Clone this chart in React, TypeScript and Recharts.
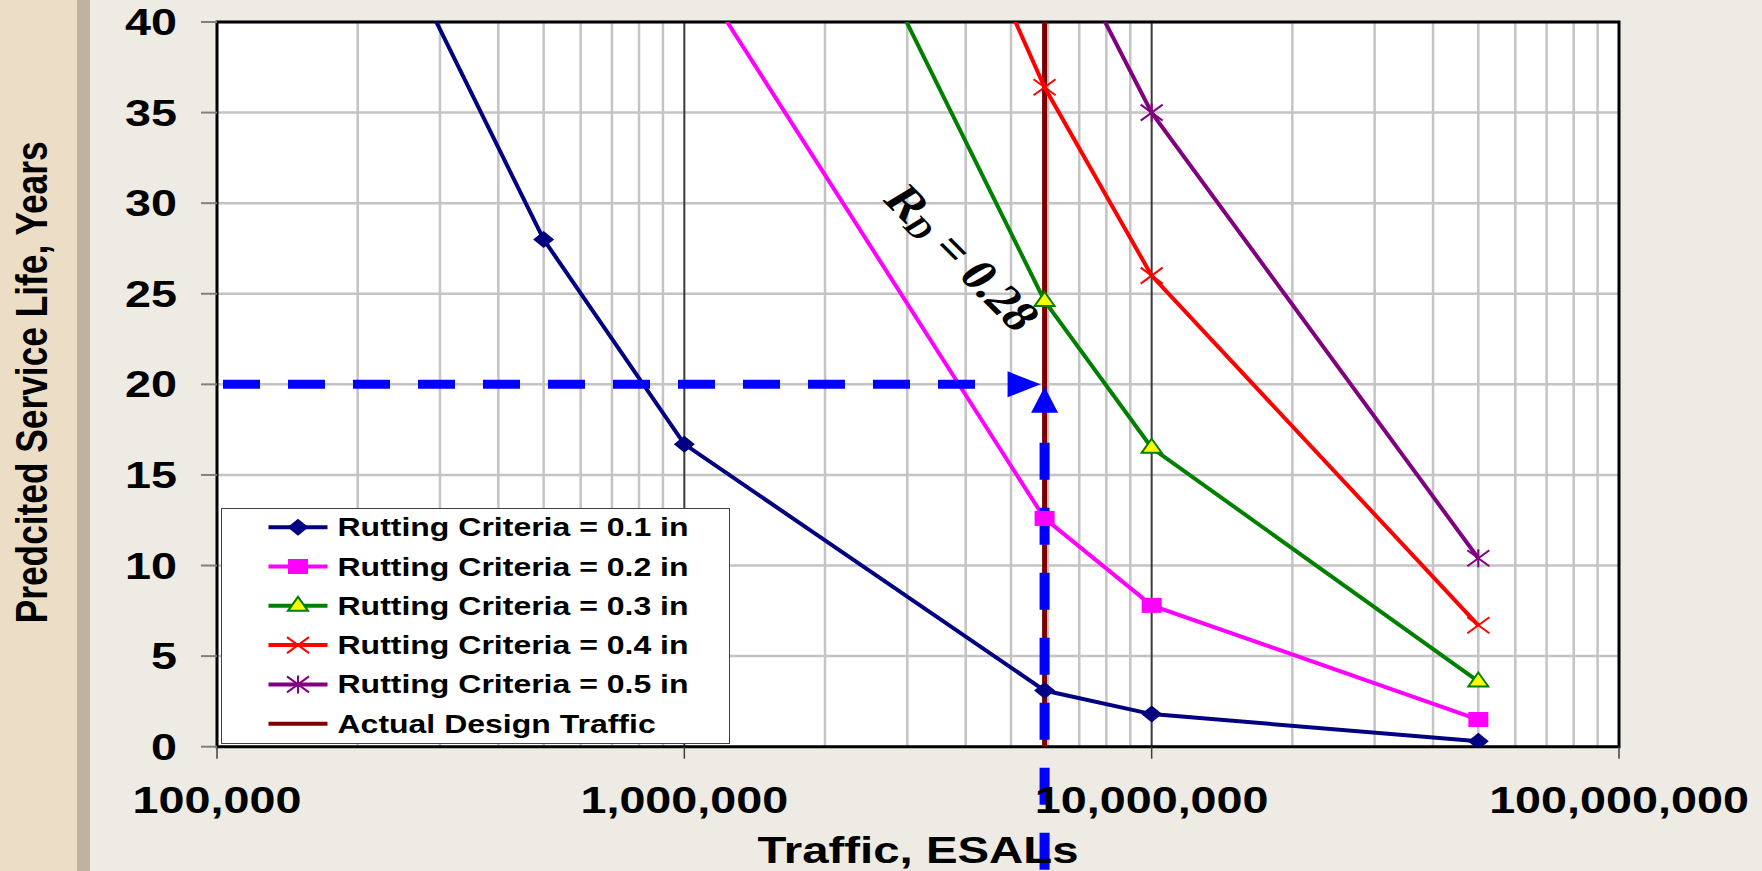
import React from 'react';
import {
  LineChart,
  Line,
  XAxis,
  YAxis,
  CartesianGrid,
  ReferenceLine,
  ReferenceArea,
  ReferenceDot,
  Legend,
  Label,
} from 'recharts';

// ---------------- data ----------------
const X_TICKS = [100000, 1000000, 10000000, 100000000];
const Y_TICKS = [0, 5, 10, 15, 20, 25, 30, 35, 40];
const MINOR_X = [
  200000, 300000, 400000, 500000, 600000, 700000, 800000, 900000,
  2000000, 3000000, 4000000, 5000000, 6000000, 7000000, 8000000, 9000000,
  20000000, 30000000, 40000000, 50000000, 60000000, 70000000, 80000000, 90000000,
];
const MAJOR_X = [1000000, 10000000];
const DESIGN_TRAFFIC = 5900000;
const TARGET_LIFE = 20;
const RD_LABEL_AT = { x: 3950000, y: 27.0 };

const TRAFFIC_01 = [200000, 500000, 1000000, DESIGN_TRAFFIC, 10000000, 50000000];
const LIFE_01 = [48.8, 28.0, 16.7, 3.1, 1.8, 0.3];
const TRAFFIC_02 = [1000000, DESIGN_TRAFFIC, 10000000, 50000000];
const LIFE_02 = [43.7, 12.6, 7.8, 1.5];
const TRAFFIC_03 = [1000000, DESIGN_TRAFFIC, 10000000, 50000000];
const LIFE_03 = [64.8, 24.6, 16.5, 3.6];
const TRAFFIC_04 = [1000000, DESIGN_TRAFFIC, 10000000, 50000000];
const LIFE_04 = [81.0, 36.4, 26.0, 6.7];
const TRAFFIC_05 = [DESIGN_TRAFFIC, 10000000, 50000000];
const LIFE_05 = [46.5, 35.0, 10.4];
const DESIGN_LINE_TRAFFIC = [DESIGN_TRAFFIC, DESIGN_TRAFFIC];
const DESIGN_LINE_LIFE = [0, 40];

const SERIES_NAMES = [
  'Rutting Criteria = 0.1 in',
  'Rutting Criteria = 0.2 in',
  'Rutting Criteria = 0.3 in',
  'Rutting Criteria = 0.4 in',
  'Rutting Criteria = 0.5 in',
  'Actual Design Traffic',
];

const zip = (xs: number[], ys: number[]) => xs.map((x, i) => ({ x, y: ys[i] }));

// ---------------- styles ----------------
const FONT = "'Liberation Sans', Arial, Helvetica, sans-serif";
const STRETCH = 1.28;
const COLORS = ['#000080', '#FF00FF', '#008000', '#FF0000', '#800080', '#800000'];
const MARKERS = ['diamond', 'square', 'triangle', 'x', 'star', 'none'];

const Marker = ({ shape, cx, cy, color }: any) => {
  if (shape === 'diamond') {
    return <polygon points={`${cx},${cy - 8.5} ${cx + 10.5},${cy} ${cx},${cy + 8.5} ${cx - 10.5},${cy}`} fill={color} />;
  }
  if (shape === 'square') {
    return <rect x={cx - 10} y={cy - 7.5} width={20} height={15} fill={color} />;
  }
  if (shape === 'triangle') {
    return (
      <polygon
        points={`${cx},${cy - 9} ${cx + 10},${cy + 5} ${cx - 10},${cy + 5}`}
        fill="#FFFF00"
        stroke={color}
        strokeWidth={2}
      />
    );
  }
  if (shape === 'x') {
    return (
      <g stroke={color} strokeWidth={2}>
        <line x1={cx - 11} y1={cy - 8} x2={cx + 11} y2={cy + 8} />
        <line x1={cx - 11} y1={cy + 8} x2={cx + 11} y2={cy - 8} />
      </g>
    );
  }
  if (shape === 'star') {
    return (
      <g stroke={color} strokeWidth={2}>
        <line x1={cx - 11} y1={cy - 8} x2={cx + 11} y2={cy + 8} />
        <line x1={cx - 11} y1={cy + 8} x2={cx + 11} y2={cy - 8} />
        <line x1={cx} y1={cy - 9} x2={cx} y2={cy + 9} />
      </g>
    );
  }
  return null;
};

const makeDot = (i: number) => (p: any) => {
  const { cx, cy, index } = p;
  if (cx == null || cy == null || MARKERS[i] === 'none') return <g key={`d${i}-${index}`} />;
  return (
    <g key={`d${i}-${index}`}>
      <Marker shape={MARKERS[i]} cx={cx} cy={cy} color={COLORS[i]} />
    </g>
  );
};

const XTick = (p: any) => {
  const { x, y, payload } = p;
  return (
    <text
      transform={`translate(${x},${y + 52}) scale(${STRETCH},1)`}
      textAnchor="middle"
      fontFamily={FONT}
      fontWeight="bold"
      fontSize={36.5}
      fill="#000"
    >
      {Number(payload.value).toLocaleString('en-US')}
    </text>
  );
};

const YTick = (p: any) => {
  const { x, y, payload } = p;
  return (
    <text
      transform={`translate(${x},${y + 13}) scale(${STRETCH},1)`}
      textAnchor="end"
      fontFamily={FONT}
      fontWeight="bold"
      fontSize={36.5}
      fill="#000"
    >
      {payload.value}
    </text>
  );
};

const XTitle = (p: any) => {
  const vb = p.viewBox || {};
  const cx = vb.x + vb.width / 2;
  const y = vb.y + 116;
  return (
    <text
      transform={`translate(${cx},${y}) scale(${STRETCH},1)`}
      textAnchor="middle"
      fontFamily={FONT}
      fontWeight="bold"
      fontSize={37}
      fill="#000"
    >
      Traffic, ESALs
    </text>
  );
};

const YTitle = (p: any) => {
  const vb = p.viewBox || {};
  const cx = vb.x - 86;
  const cy = vb.y + vb.height / 2 - 2;
  return (
    <text
      transform={`translate(${cx},${cy}) scale(${STRETCH},1) rotate(-90)`}
      textAnchor="middle"
      dominantBaseline="central"
      fontFamily={FONT}
      fontWeight="bold"
      fontSize={35.3}
      fill="#000"
    >
      Predcited Service Life, Years
    </text>
  );
};

const HArrow = (p: any) => {
  const x1 = Math.min(p.x1, p.x2);
  const x2 = Math.max(p.x1, p.x2);
  const y = p.y1;
  return (
    <g>
      <line x1={x1 + 6} y1={y} x2={x2 - 66} y2={y} stroke="#0000FF" strokeWidth={9} strokeDasharray="37 28" />
      <polygon points={`${x2 - 4},${y} ${x2 - 37},${y - 13} ${x2 - 37},${y + 13}`} fill="#0000FF" />
    </g>
  );
};

const VArrow = (p: any) => {
  const x = p.x1;
  const yTop = Math.min(p.y1, p.y2);
  const yBot = Math.max(p.y1, p.y2);
  return (
    <g>
      <line x1={x} y1={yTop + 58.5} x2={x} y2={yBot} stroke="#0000FF" strokeWidth={10} strokeDasharray="37 28" />
      <polygon points={`${x},${yTop + 2.5} ${x + 13.5},${yTop + 28.5} ${x - 13.5},${yTop + 28.5}`} fill="#0000FF" />
    </g>
  );
};

const RdLabel = (p: any) => {
  const { cx, cy } = p;
  if (cx == null || cy == null) return <g />;
  return (
    <text
      transform={`translate(${cx},${cy}) scale(${STRETCH},1) rotate(52)`}
      textAnchor="middle"
      dominantBaseline="central"
      fontFamily="'Liberation Serif', 'Times New Roman', serif"
      fontWeight="bold"
      fontSize={42}
      fill="#000"
    >
      <tspan>R</tspan>
      <tspan fontSize={28} dy={9}>D</tspan>
      <tspan dy={-9}> = 0.28</tspan>
    </text>
  );
};

const renderLegend = () => (
  <div
    style={{
      width: 509,
      height: 236,
      boxSizing: 'border-box',
      border: '1.5px solid #404040',
      background: '#FFFFFF',
    }}
  >
    <svg width={506} height={233} style={{ display: 'block' }}>
      {SERIES_NAMES.map((name, i) => {
        const cy = 18.2 + i * 39.3;
        return (
          <g key={name}>
            <line x1={46.5} y1={cy} x2={105.5} y2={cy} stroke={COLORS[i]} strokeWidth={4} />
            <Marker shape={MARKERS[i]} cx={76} cy={cy} color={COLORS[i]} />
            <text
              transform={`translate(115.5,${cy + 9}) scale(${STRETCH},1)`}
              fontFamily={FONT}
              fontWeight="bold"
              fontSize={25}
              fill="#000"
            >
              {name}
            </text>
          </g>
        );
      })}
    </svg>
  </div>
);

const SERIES_DATA = [
  zip(TRAFFIC_01, LIFE_01),
  zip(TRAFFIC_02, LIFE_02),
  zip(TRAFFIC_03, LIFE_03),
  zip(TRAFFIC_04, LIFE_04),
  zip(TRAFFIC_05, LIFE_05),
  zip(DESIGN_LINE_TRAFFIC, DESIGN_LINE_LIFE),
];

export default function App() {
  return (
    <div
      style={{
        position: 'absolute',
        left: 0,
        top: 0,
        width: 1762,
        height: 871,
        background: '#EEEBE4',
        overflow: 'hidden',
      }}
    >
      <div style={{ position: 'absolute', left: 0, top: 0, width: 77, height: 871, background: '#EBDDC6' }} />
      <div style={{ position: 'absolute', left: 77, top: 0, width: 13, height: 871, background: '#BFB29E' }} />
      <div style={{ position: 'absolute', left: 0, top: 0 }}>
        <LineChart width={1762} height={871} margin={{ top: 22, right: 143, bottom: 64.3, left: 117 }}>
          <CartesianGrid
            verticalValues={MINOR_X}
            stroke="#C4C4C4"
            strokeWidth={2.5}
            fill="#FFFFFF"
            fillOpacity={1}
          />
          <CartesianGrid horizontal={false} verticalValues={MAJOR_X} stroke="#3A3A3A" strokeWidth={2} />
          <XAxis
            type="number"
            dataKey="x"
            scale="log"
            domain={[100000, 100000000]}
            ticks={X_TICKS}
            interval={0}
            allowDataOverflow
            height={60}
            tickSize={12}
            tickLine={{ stroke: '#404040', strokeWidth: 1.5 }}
            axisLine={false}
            tick={<XTick />}
          >
            <Label content={<XTitle />} />
          </XAxis>
          <YAxis
            type="number"
            dataKey="y"
            domain={[0, 40]}
            ticks={Y_TICKS}
            interval={0}
            allowDataOverflow
            width={100}
            tickSize={16}
            tickMargin={24}
            tickLine={{ stroke: '#808080', strokeWidth: 2 }}
            axisLine={false}
            tick={<YTick />}
          >
            <Label content={<YTitle />} />
          </YAxis>
          <Line
            data={SERIES_DATA[5]}
            dataKey="y"
            name={SERIES_NAMES[5]}
            stroke={COLORS[5]}
            strokeWidth={5}
            dot={false}
            activeDot={false}
            isAnimationActive={false}
          />
          {[0, 1, 2, 3, 4].map((i) => (
            <Line
              key={SERIES_NAMES[i]}
              data={SERIES_DATA[i]}
              dataKey="y"
              name={SERIES_NAMES[i]}
              stroke={COLORS[i]}
              strokeWidth={4}
              dot={makeDot(i)}
              activeDot={false}
              isAnimationActive={false}
            />
          ))}
          <ReferenceArea
            x1={100000}
            x2={100000000}
            y1={0}
            y2={40}
            fill="none"
            stroke="#000000"
            strokeWidth={3}
            ifOverflow="visible"
          />
          <ReferenceLine
            segment={[
              { x: 100000, y: TARGET_LIFE },
              { x: DESIGN_TRAFFIC, y: TARGET_LIFE },
            ]}
            ifOverflow="visible"
            shape={HArrow}
          />
          <ReferenceLine
            segment={[
              { x: DESIGN_TRAFFIC, y: -7 },
              { x: DESIGN_TRAFFIC, y: TARGET_LIFE },
            ]}
            ifOverflow="visible"
            shape={VArrow}
          />
          <ReferenceDot x={RD_LABEL_AT.x} y={RD_LABEL_AT.y} r={0} ifOverflow="visible" shape={RdLabel} />
          <Legend
            layout="horizontal"
            verticalAlign="middle"
            align="center"
            wrapperStyle={{ position: 'absolute', left: 221, top: 508, width: 509, height: 236, margin: 0, padding: 0 }}
            content={renderLegend}
          />
        </LineChart>
      </div>
    </div>
  );
}
